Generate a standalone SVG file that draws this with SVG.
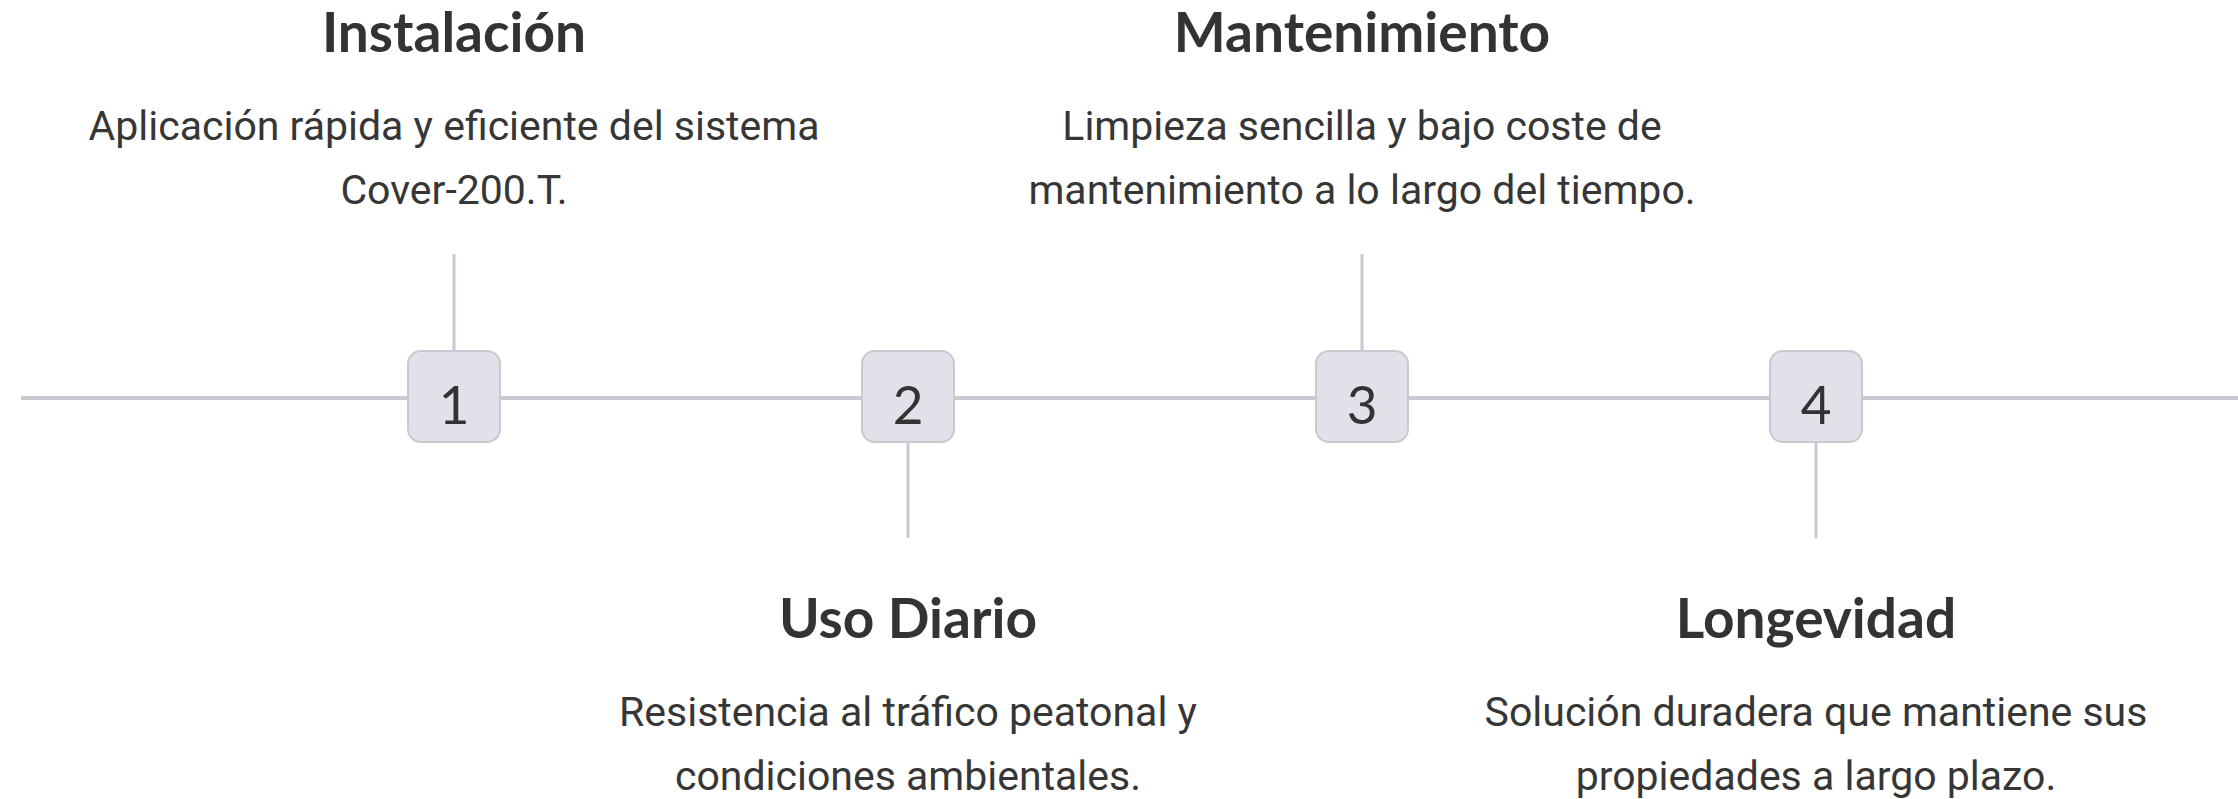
<svg xmlns="http://www.w3.org/2000/svg" width="2238" height="799" viewBox="0 0 2238 799">
<style>
.title{font-family:Lato,"Open Sans",sans-serif;font-weight:700;font-size:55px;fill:#333333;text-anchor:middle}
.desc{font-family:Roboto,"Liberation Sans",sans-serif;font-weight:400;font-size:41px;fill:#363636;text-anchor:middle}
.num{font-family:Lato,"Open Sans",sans-serif;font-weight:400;font-size:53px;fill:#333333;text-anchor:middle}
.box{fill:#e0e1e9;stroke:#c9c9d2;stroke-width:2}
.ln{stroke:#c9c9d2;stroke-width:4;fill:none}
.vl{stroke:#c9c9d2;stroke-width:3;fill:none}
</style>
<rect width="2238" height="799" fill="#ffffff"/>
<g id="connectors">
<line class="ln" x1="21" y1="398" x2="2238" y2="398"/>
<line class="vl" x1="454" y1="254" x2="454" y2="350"/>
<line class="vl" x1="908" y1="442" x2="908" y2="538"/>
<line class="vl" x1="1362" y1="254" x2="1362" y2="350"/>
<line class="vl" x1="1816" y1="442" x2="1816" y2="538"/>
</g>
<g id="step1">
<rect class="box" x="408" y="351" width="92" height="91" rx="13"/>
<text class="num" x="454" y="424">1</text>
<text class="title" x="454" y="52">Instalación</text>
<text class="desc" x="454" y="140">Aplicación rápida y eficiente del sistema</text>
<text class="desc" x="454" y="204">Cover-200.T.</text>
</g>
<g id="step2">
<rect class="box" x="862" y="351" width="92" height="91" rx="13"/>
<text class="num" x="908" y="424">2</text>
<text class="title" x="908" y="638">Uso Diario</text>
<text class="desc" x="908" y="726">Resistencia al tráfico peatonal y</text>
<text class="desc" x="908" y="790">condiciones ambientales.</text>
</g>
<g id="step3">
<rect class="box" x="1316" y="351" width="92" height="91" rx="13"/>
<text class="num" x="1362" y="424">3</text>
<text class="title" x="1362" y="52">Mantenimiento</text>
<text class="desc" x="1362" y="140">Limpieza sencilla y bajo coste de</text>
<text class="desc" x="1362" y="204">mantenimiento a lo largo del tiempo.</text>
</g>
<g id="step4">
<rect class="box" x="1770" y="351" width="92" height="91" rx="13"/>
<text class="num" x="1816" y="424">4</text>
<text class="title" x="1816" y="638">Longevidad</text>
<text class="desc" x="1816" y="726">Solución duradera que mantiene sus</text>
<text class="desc" x="1816" y="790">propiedades a largo plazo.</text>
</g>
</svg>
